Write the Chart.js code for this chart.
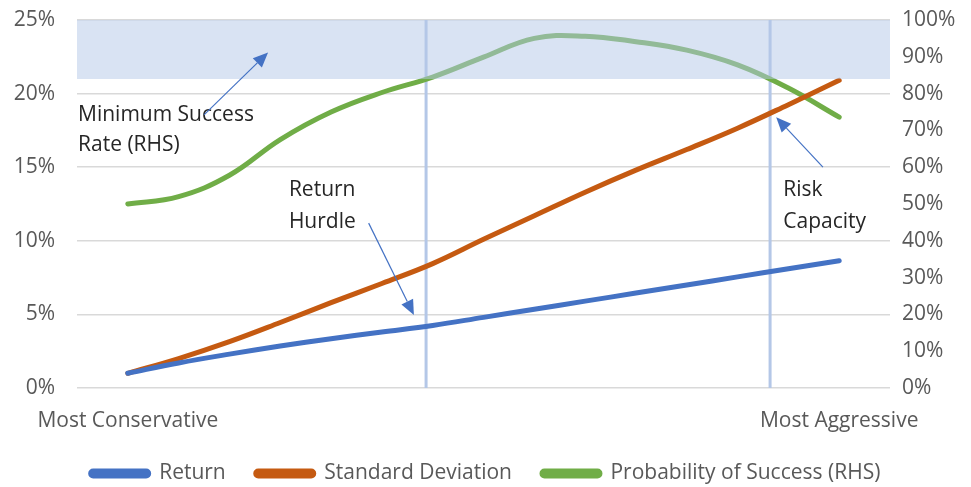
<!DOCTYPE html>
<html>
<head>
<meta charset="utf-8">
<script src="https://cdn.jsdelivr.net/npm/chart.js@4.4.1/dist/chart.umd.min.js"></script>
<style>
  html, body { margin: 0; padding: 0; background: #fff; }
  #wrap { width: 971px; height: 487px; position: relative; }
</style>
</head>
<body>
<div id="wrap"><canvas id="chart"></canvas></div>
<script>
// portfolio steps, conservative (0) -> aggressive (14)
const steps        = [0, 1, 2, 3, 4, 5, 6, 7, 8, 9, 10, 11, 12, 13, 14];
const returnVals   = [1.0, 1.7, 2.3, 2.85, 3.35, 3.8, 4.25, 4.8, 5.35, 5.9, 6.45, 7.0, 7.55, 8.1, 8.65];
const stdDevVals   = [1.0, 2.0, 3.15, 4.45, 5.8, 7.1, 8.45, 10.1, 11.7, 13.3, 14.8, 16.2, 17.65, 19.25, 20.9];
const successVals  = [50, 52, 57.8, 67.5, 75, 80.3, 84.5, 89.9, 95.0, 95.6, 94.1, 91.8, 87.8, 81.5, 73.6];
const xTickLabels  = { 0: 'Most Conservative', 14: 'Most Aggressive' };
const leftTicks    = [0, 5, 10, 15, 20, 25];
const rightTicks   = [0, 10, 20, 30, 40, 50, 60, 70, 80, 90, 100];
const minSuccess   = 84;            // RHS
const hurdleStep   = 5.87;          // return hurdle marker
const capacityStep = 12.64;         // risk capacity marker

// callouts: text lines and arrows in data units (x step, left-axis %)
const noteTexts = [
  { x: -0.98, y: 18.55, text: 'Minimum Success' },
  { x: -0.98, y: 16.5,  text: 'Rate (RHS)' },
  { x: 3.17,  y: 13.45, text: 'Return' },
  { x: 3.17,  y: 11.28, text: 'Hurdle' },
  { x: 12.9,  y: 13.45, text: 'Risk' },
  { x: 12.9,  y: 11.28, text: 'Capacity' }
];
const noteArrows = [
  { x0: 1.5,   y0: 18.55, x1: 2.76,  y1: 22.8 },
  { x0: 4.74,  y0: 11.2,  x1: 5.63,  y1: 4.96 },
  { x0: 13.68, y0: 15.0,  x1: 12.76, y1: 18.4 }
];

const FONT = "'Open Sans', 'Noto Sans', sans-serif";
const FS = 21;
const pts = vals => steps.map((s, i) => ({ x: s, y: vals[i] }));

const calloutPlugin = {
  id: 'callouts',
  afterDatasetsDraw(chart) {
    const { ctx, scales: { x, y } } = chart;
    ctx.save();
    ctx.fillStyle = '#262626';
    ctx.font = `${FS}px ${FONT}`;
    ctx.textBaseline = 'middle';
    ctx.textAlign = 'left';
    noteTexts.forEach(n => ctx.fillText(n.text, x.getPixelForValue(n.x), y.getPixelForValue(n.y)));

    ctx.strokeStyle = '#4472C4';
    ctx.fillStyle = '#4472C4';
    ctx.lineWidth = 1.2;
    noteArrows.forEach(a => {
      const px0 = x.getPixelForValue(a.x0), py0 = y.getPixelForValue(a.y0);
      const px1 = x.getPixelForValue(a.x1), py1 = y.getPixelForValue(a.y1);
      const ang = Math.atan2(py1 - py0, px1 - px0);
      const hl = 15, hw = 6.5;
      const bx = px1 - hl * Math.cos(ang), by = py1 - hl * Math.sin(ang);
      ctx.beginPath();
      ctx.moveTo(px0, py0); ctx.lineTo(bx, by);
      ctx.stroke();
      ctx.beginPath();
      ctx.moveTo(px1, py1);
      ctx.lineTo(bx + hw * Math.sin(ang), by - hw * Math.cos(ang));
      ctx.lineTo(bx - hw * Math.sin(ang), by + hw * Math.cos(ang));
      ctx.closePath();
      ctx.fill();
    });
    ctx.restore();
  }
};

const lineDs = (label, vals, color, axis) => ({
  label, data: pts(vals), yAxisID: axis,
  borderColor: color, backgroundColor: color,
  borderWidth: 5, borderCapStyle: 'round', borderJoinStyle: 'round',
  pointRadius: 0, pointHoverRadius: 0,
  tension: 0.4, fill: false, order: 1
});

const markerDs = step => ({
  label: '_marker', data: [{ x: step, y: 0 }, { x: step, y: 25 }], yAxisID: 'y',
  borderColor: '#B4C7E7', borderWidth: 3, pointRadius: 0, fill: false, order: 2
});

const noPad = s => { s.paddingTop = 0; s.paddingBottom = 0; s.paddingLeft = 0; s.paddingRight = 0; };

new Chart(document.getElementById('chart'), {
  type: 'line',
  data: {
    datasets: [
      {
        label: '_band', data: [{ x: -1, y: minSuccess }, { x: 15, y: minSuccess }], yAxisID: 'y2',
        borderWidth: 0, borderColor: 'rgba(0,0,0,0)', backgroundColor: 'rgba(180,199,231,0.5)',
        pointRadius: 0, fill: 'end', order: 0
      },
      lineDs('Return', returnVals, '#4472C4', 'y'),
      lineDs('Standard Deviation', stdDevVals, '#C55A11', 'y'),
      lineDs('Probability of Success (RHS)', successVals, '#70AD47', 'y2'),
      markerDs(hurdleStep),
      markerDs(capacityStep)
    ]
  },
  options: {
    responsive: true, maintainAspectRatio: false, animation: false,
    layout: { padding: { top: 20, left: 0, right: 0, bottom: -7 } },
    plugins: {
      tooltip: { enabled: false },
      legend: {
        position: 'bottom',
        labels: {
          filter: item => !item.text.startsWith('_'),
          font: { family: FONT, size: FS }, color: '#595959',
          boxWidth: 58, boxHeight: 5, padding: 30,
          useBorderRadius: true, borderRadius: 2.5
        }
      }
    },
    scales: {
      x: {
        type: 'linear', min: -1, max: 15,
        afterBuildTicks: s => { s.ticks = Object.keys(xTickLabels).map(k => ({ value: +k })); },
        afterFit: s => { s.height = 45; noPad(s); },
        grid: { display: false, drawTicks: false }, border: { display: false },
        ticks: {
          autoSkip: false, maxRotation: 0, padding: 23,
          font: { family: FONT, size: FS, lineHeight: 1 }, color: '#595959',
          callback: v => xTickLabels[v] || ''
        }
      },
      y: {
        position: 'left', min: 0, max: 25,
        afterBuildTicks: s => { s.ticks = leftTicks.map(v => ({ value: v })); },
        afterFit: s => { s.width = 77; noPad(s); },
        grid: { color: '#D9D9D9', lineWidth: 1.5, drawTicks: false }, border: { display: false },
        ticks: { padding: 22, font: { family: FONT, size: FS }, color: '#595959', callback: v => v + '%' }
      },
      y2: {
        position: 'right', min: 0, max: 100,
        afterBuildTicks: s => { s.ticks = rightTicks.map(v => ({ value: v })); },
        afterFit: s => { s.width = 81; noPad(s); },
        grid: { display: false, drawTicks: false }, border: { display: false },
        ticks: { padding: 12, font: { family: FONT, size: FS }, color: '#595959', callback: v => v + '%' }
      }
    }
  },
  plugins: [calloutPlugin]
});
</script>
</body>
</html>
